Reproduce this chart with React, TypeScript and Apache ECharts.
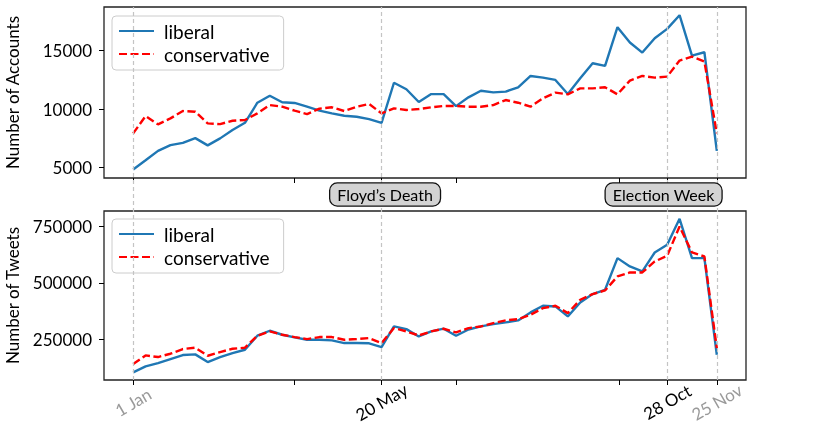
import React, { useEffect, useRef } from "react";
import * as echarts from "echarts";

// Weekly counts starting 1 Jan 2020 (one value per week)
const libAccounts = [4830, 5620, 6420, 6910, 7110, 7510, 6890, 7490, 8200, 8820, 10540, 11140, 10580, 10520, 10200, 9860, 9630, 9430, 9340, 9140, 8820, 12250, 11690, 10600, 11280, 11280, 10250, 11000, 11570, 11430, 11490, 11860, 12830, 12690, 12490, 11290, 12630, 13920, 13690, 17000, 15690, 14830, 16060, 16860, 18030, 14570, 14860, 6420];
const conAccounts = [7920, 9400, 8690, 9200, 9830, 9770, 8770, 8710, 9000, 9060, 9630, 10340, 10200, 9860, 9570, 10030, 10150, 9830, 10200, 10430, 9630, 10060, 9920, 10000, 10150, 10260, 10260, 10200, 10200, 10340, 10770, 10540, 10200, 10920, 11400, 11260, 11770, 11770, 11860, 11260, 12430, 12830, 12690, 12770, 14150, 14490, 14060, 7920];
const libTweets = [101800, 128500, 143300, 161000, 178800, 181800, 147700, 170000, 187700, 202500, 264700, 286900, 269100, 257200, 246900, 246900, 243900, 232100, 232100, 231000, 214300, 306000, 294000, 261700, 283900, 296000, 264700, 292500, 306000, 316500, 323900, 332700, 368300, 397900, 394900, 350500, 412700, 449700, 468900, 609600, 572500, 550300, 634700, 668700, 784200, 609600, 609600, 180300];
const conTweets = [138900, 177300, 170000, 184700, 205500, 211400, 175800, 192100, 207000, 211400, 264700, 283900, 269100, 258800, 249900, 258800, 258800, 246900, 249900, 254300, 232100, 298700, 283900, 266100, 283900, 295700, 279400, 298700, 306000, 320900, 332700, 338700, 357900, 387500, 397900, 365300, 424500, 449700, 465900, 528100, 545900, 545900, 594700, 619900, 750000, 634700, 616900, 209900];

// x axis: days since 1 Jan 2020
const tickDays = [0, 91, 140, 182, 274, 301, 329];
const labelDays = [0, 140, 301, 329];
const labelTexts = ["1 Jan", "20 May", "28 Oct", "25 Nov"];
const grayLabels = ["1 Jan", "25 Nov"];
const eventDays = [0, 140, 301, 329];
const annotations = [
  { text: "Floyd\u2019s Death", day: 142 },
  { text: "Election Week", day: 299 },
];
const accountTicks = [5000, 10000, 15000];
const tweetTicks = [250000, 500000, 750000];

const X_MIN = -16.45;
const X_MAX = 345.45;

export default function App() {
  const ref = useRef<HTMLDivElement>(null);
  useEffect(() => {
    if (!ref.current) return;
    const chart = echarts.init(ref.current, null, { renderer: "svg" });
    const days = libAccounts.map((_, i) => i * 7);
    const pair = (arr: number[]) => arr.map((v, i) => [days[i], v]);

    const LEFT = 104, RIGHT = 84;
    const G1_TOP = 7, G1_H = 171;
    const G2_TOP = 211, G2_H = 169;
    const H = 424;

    const font = "Lato";

    const xCommon = (gi: number, showLabels: boolean) => ({
      type: "value",
      gridIndex: gi,
      min: X_MIN,
      max: X_MAX,
      axisLine: { show: false, onZero: false },
      splitLine: { show: false },
      axisTick: {
        show: true,
        customValues: tickDays,
        length: 5,
        lineStyle: { color: "#000", width: 1 },
      },
      axisLabel: showLabels
        ? {
            show: true,
            // empty labels at the extent ends keep the dated labels centred on their ticks
            customValues: [X_MIN, ...labelDays, X_MAX],
            rotate: 30,
            align: "center",
            verticalAlign: "middle",
            margin: 22,
            formatter: (v: number) => {
              const idx = labelDays.findIndex((d) => Math.abs(d - v) < 0.01);
              if (idx < 0) return "";
              const t = labelTexts[idx];
              return grayLabels.includes(t) ? `{g|${t}}` : `{k|${t}}`;
            },
            rich: {
              g: { color: "#9a9a9a", fontFamily: font, fontSize: 17 },
              k: { color: "#000", fontFamily: font, fontSize: 17 },
            },
          }
        : { show: false },
    });

    const yCommon = (gi: number, min: number, max: number, ticks: number[], name: string) => ({
      type: "value",
      gridIndex: gi,
      min,
      max,
      name,
      nameLocation: "middle",
      nameGap: 83,
      nameTextStyle: { fontFamily: font, fontSize: 17, color: "#000" },
      axisLine: { show: false, onZero: false },
      splitLine: { show: false },
      axisTick: { show: true, customValues: ticks, length: 5, lineStyle: { color: "#000" } },
      axisLabel: {
        show: true,
        customValues: ticks,
        margin: 12,
        fontFamily: font,
        fontSize: 17,
        color: "#000",
        formatter: (v: number) => `{t|${Math.round(v)}}`,
        rich: {
          t: { fontFamily: font, fontSize: 17, color: "#000" },
        },
      },
    });

    const legendCommon = (top: number) => ({
      orient: "vertical",
      left: 112,
      top,
      data: ["liberal", "conservative"],
      itemWidth: 35,
      itemHeight: 14,
      itemGap: 3,
      padding: [5, 14, 6, 6],
      backgroundColor: "rgba(255,255,255,0.8)",
      borderColor: "#cccccc",
      borderWidth: 1,
      borderRadius: 4,
      itemStyle: { opacity: 0 },
      textStyle: {
        fontFamily: font,
        fontSize: 19,
        color: "#000",
        lineHeight: 20,
        padding: [0, 0, 0, 5],
      },
      selectedMode: false,
    });

    const libStyle = { color: "#1f77b4", width: 2.4, type: "solid" };
    const conStyle = { color: "#ff0000", width: 2.4, type: [8, 3.5] };

    const gridBase = { left: LEFT, right: RIGHT, containLabel: false, outerBoundsMode: "none" };

    const option: any = {
      animation: false,
      textStyle: { fontFamily: font, fontSize: 17 },
      grid: [
        { ...gridBase, top: G1_TOP, height: G1_H, show: true, borderColor: "#222", borderWidth: 1.3, backgroundColor: "transparent" },
        { ...gridBase, top: G2_TOP, height: G2_H, show: true, borderColor: "#222", borderWidth: 1.3, backgroundColor: "transparent" },
        { ...gridBase, top: G1_TOP, bottom: H - (G2_TOP + G2_H), show: false },
      ],
      xAxis: [
        xCommon(0, false),
        xCommon(1, true),
        { type: "value", gridIndex: 2, min: X_MIN, max: X_MAX, show: false },
      ],
      yAxis: [
        yCommon(0, 4100, 18730, accountTicks, "Number of Accounts"),
        yCommon(1, 68000, 819000, tweetTicks, "Number of Tweets"),
        { type: "value", gridIndex: 2, min: 0, max: 1, show: false },
      ],
      legend: [legendCommon(16), legendCommon(219)],
      series: [
        {
          name: "_events",
          type: "line",
          xAxisIndex: 2,
          yAxisIndex: 2,
          data: [[0, 0.5]],
          symbol: "none",
          lineStyle: { opacity: 0 },
          silent: true,
          z: 1,
          markLine: {
            symbol: "none",
            silent: true,
            label: { show: false },
            lineStyle: { color: "#c4c4c4", width: 1.2, type: [4, 3] },
            data: eventDays.map((d) => ({ xAxis: d })),
          },
        },
        { name: "liberal", type: "line", xAxisIndex: 0, yAxisIndex: 0, data: pair(libAccounts), symbol: "none", lineStyle: libStyle, itemStyle: { color: "#1f77b4" }, z: 3 },
        { name: "conservative", type: "line", xAxisIndex: 0, yAxisIndex: 0, data: pair(conAccounts), symbol: "none", lineStyle: conStyle, itemStyle: { color: "#ff0000" }, z: 3 },
        { name: "liberal", type: "line", xAxisIndex: 1, yAxisIndex: 1, data: pair(libTweets), symbol: "none", lineStyle: libStyle, itemStyle: { color: "#1f77b4" }, z: 3 },
        { name: "conservative", type: "line", xAxisIndex: 1, yAxisIndex: 1, data: pair(conTweets), symbol: "none", lineStyle: conStyle, itemStyle: { color: "#ff0000" }, z: 3 },
      ],
    };
    chart.setOption(option);

    const boxY = (G1_TOP + G1_H + G2_TOP) / 2;
    const graphic = annotations.map((a) => {
      const px = chart.convertToPixel({ xAxisIndex: 0 }, a.day) as number;
      return {
        type: "text",
        x: px,
        y: boxY,
        z: 100,
        style: {
          text: a.text,
          fill: "#000",
          font: `16px ${font}`,
          align: "center",
          verticalAlign: "middle",
          backgroundColor: "#d3d3d3",
          borderColor: "#111",
          borderWidth: 1.3,
          borderRadius: 7,
          padding: [3, 7, 3, 7],
        },
      };
    });
    chart.setOption({ graphic });

    return () => chart.dispose();
  }, []);
  return <div ref={ref} style={{ position: "fixed", left: 0, top: 0, width: 830, height: 424 }} />;
}
